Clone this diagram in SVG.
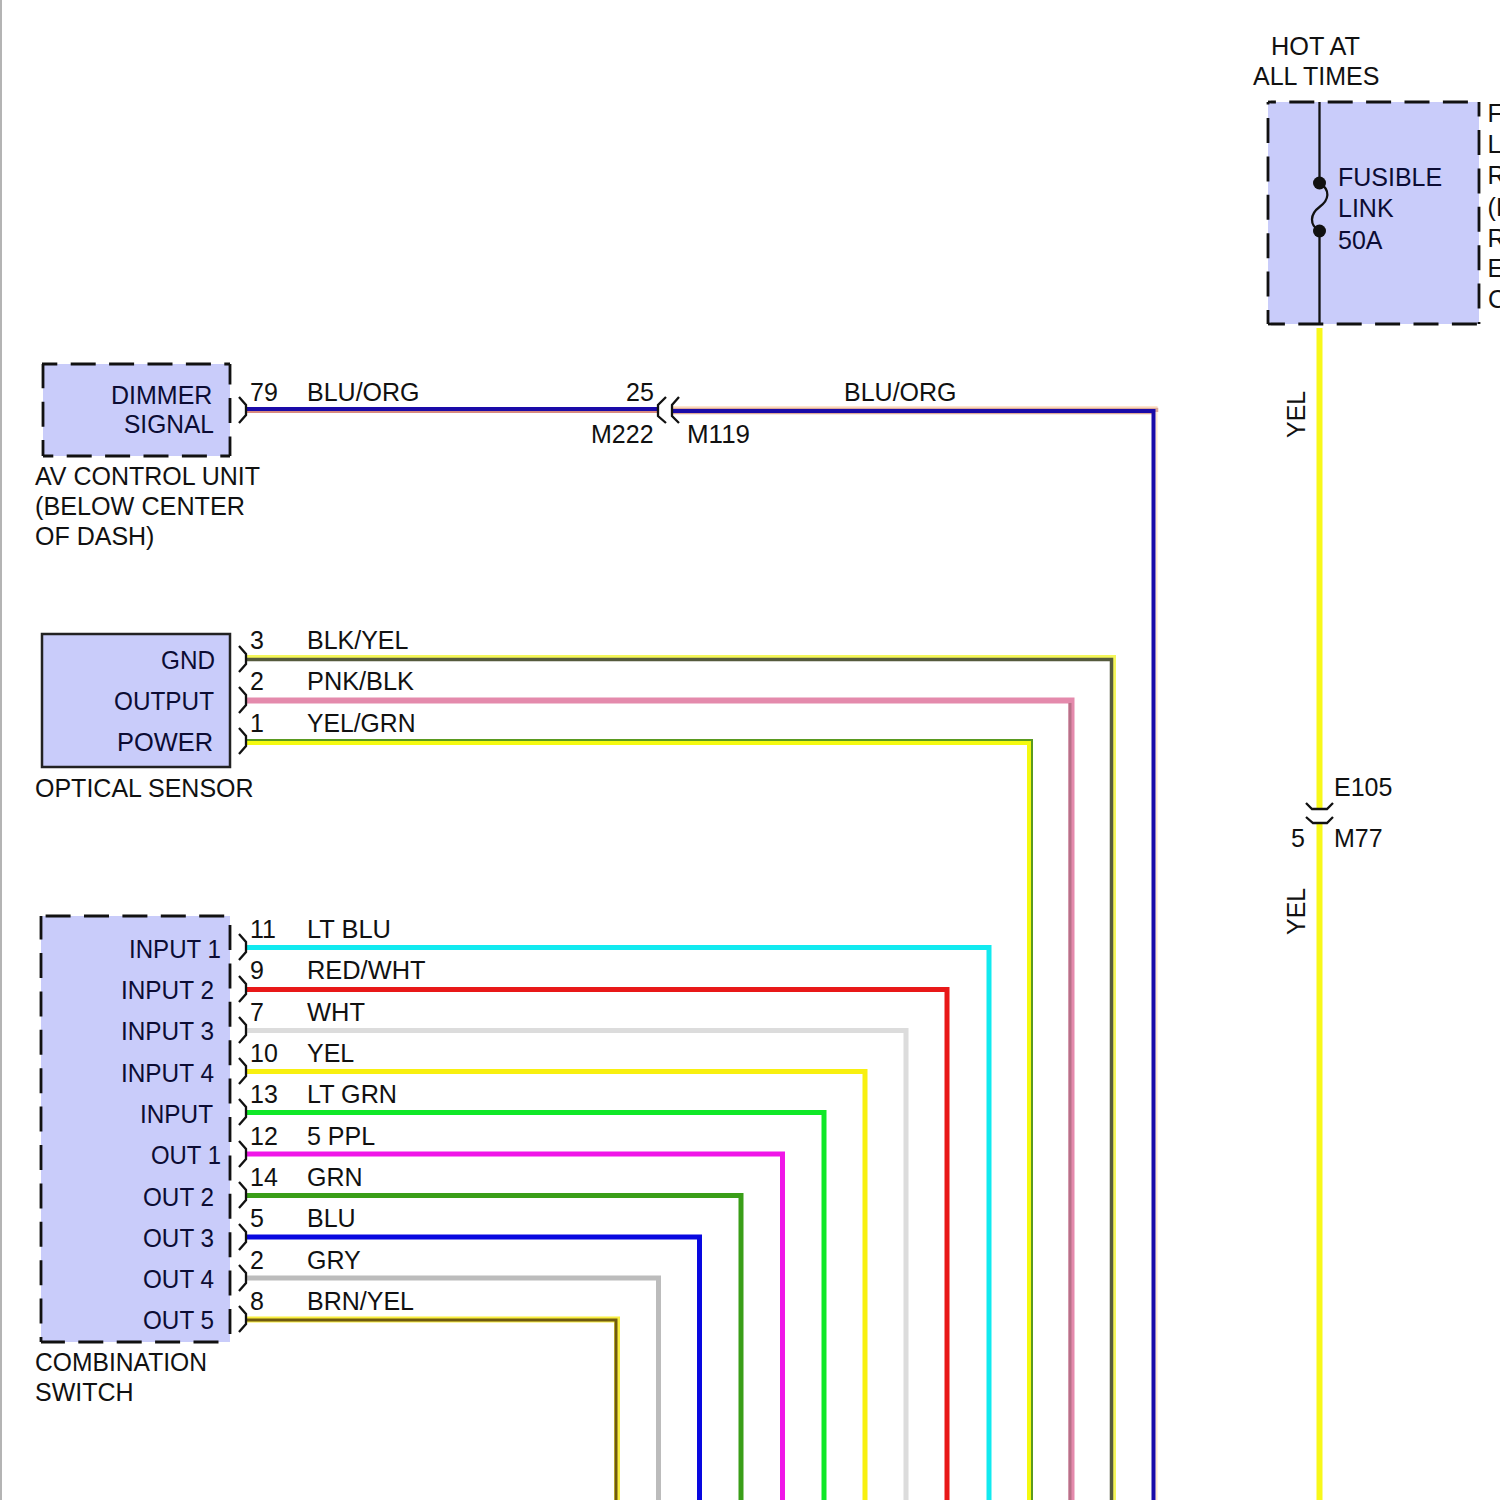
<svg xmlns="http://www.w3.org/2000/svg" width="1500" height="1500" viewBox="0 0 1500 1500">
<style>
text{font-family:"Liberation Sans",Arial,sans-serif;font-size:25px;fill:#111}
.in{fill:#0c0c34}
.box{fill:#c9ccfa;stroke:none}
.dash{fill:none;stroke:#111;stroke-width:2.800;stroke-dasharray:25 13.400}
.solid{fill:#c9ccfa;stroke:#222;stroke-width:2.500}
.w{fill:none;stroke-width:5;stroke-linejoin:miter}
.pin{fill:none;stroke:#111;stroke-width:2.300}
</style>
<defs>
<path id="pinR" class="pin" d="M239 -13L246 -5V5L239 13"/>
</defs>
<rect width="1500" height="1500" fill="#fff"/>
<path d="M1 0V1500" stroke="#b4b4b4" stroke-width="2" fill="none"/>

<g id="connectors">
<path class="w" style="stroke-width:2" stroke="#d88a80" d="M246 412H657"/>
<path class="w" style="stroke-width:4" stroke="#1a0aa8" d="M246 409H657"/>
<path class="w" style="stroke-width:2" stroke="#ffe6cc" d="M673 407H1156.500V1500"/>
<path class="w" style="stroke-width:6.500" stroke="#dca898" d="M673 411H1155V412"/>
<path class="w" style="stroke-width:4" stroke="#1a0aa8" d="M673 411H1153.500V1500"/>
<path class="w" style="stroke-width:6" stroke="#f4f65a" d="M246 658H1113V1500"/>
<path class="w" style="stroke-width:3.500" stroke="#555a3c" d="M246 659.500H1111.500V1500"/>
<path class="w" style="stroke-width:6" stroke="#e48aac" d="M246 700.500H1071.500V1500"/>
<path class="w" style="stroke-width:3" stroke="#b87088" d="M1070 703V1500"/>
<path class="w" style="stroke-width:6" stroke="#f4fa10" d="M246 742H1030V1500"/>
<path class="w" style="stroke-width:2" stroke="#5a9a20" d="M246 740H1032V1500"/>
<path class="w" stroke="#12eaf0" d="M246 947.500H989V1500"/>
<path class="w" stroke="#e81818" d="M246 989.500H947V1500"/>
<path class="w" stroke="#dcdcdc" d="M246 1030.500H906V1500"/>
<path class="w" stroke="#f8f010" d="M246 1071.500H865V1500"/>
<path class="w" stroke="#10e828" d="M246 1112.500H824V1500"/>
<path class="w" stroke="#f016e8" d="M246 1154H782.500V1500"/>
<path class="w" stroke="#3a9e18" d="M246 1195.500H741V1500"/>
<path class="w" stroke="#0808e0" d="M246 1237H699.500V1500"/>
<path class="w" stroke="#bcbcbc" d="M246 1278H658.500V1500"/>
<path class="w" style="stroke-width:6" stroke="#f8ee40" d="M246 1319.500H617V1500"/>
<path class="w" style="stroke-width:3" stroke="#705a10" d="M246 1320H616V1500"/>
<path class="w" style="stroke-width:6" stroke="#f8f81a" d="M1319.500 328V809M1319.500 823V1500"/>
<path class="pin" d="M666 397L658 405V416L666 423M679 397L672 405V416L679 423"/>
<path class="pin" d="M1306 803L1312 809H1327L1333 803M1306 817L1313 823H1327L1333 817"/>
<g>
<use href="#pinR" y="410"/><use href="#pinR" y="659"/><use href="#pinR" y="700"/><use href="#pinR" y="741"/>
<use href="#pinR" y="947"/><use href="#pinR" y="989"/><use href="#pinR" y="1030"/><use href="#pinR" y="1071"/><use href="#pinR" y="1112"/><use href="#pinR" y="1154"/><use href="#pinR" y="1195"/><use href="#pinR" y="1237"/><use href="#pinR" y="1278"/><use href="#pinR" y="1319"/>
</g>
<text x="250" y="401">79</text><text x="307" y="401">BLU/ORG</text><text x="626" y="401">25</text><text x="844" y="401">BLU/ORG</text>
<text x="591" y="443">M222</text><text x="687" y="443" textLength="63" lengthAdjust="spacingAndGlyphs">M119</text>
<text x="250" y="649">3</text><text x="307" y="649">BLK/YEL</text>
<text x="250" y="690">2</text><text x="307" y="690" textLength="107" lengthAdjust="spacingAndGlyphs">PNK/BLK</text>
<text x="250" y="732">1</text><text x="307" y="732" textLength="108.500" lengthAdjust="spacingAndGlyphs">YEL/GRN</text>
<text x="250" y="938" textLength="26" lengthAdjust="spacing">11</text><text x="307" y="938" textLength="84" lengthAdjust="spacingAndGlyphs">LT BLU</text>
<text x="250" y="979">9</text><text x="307" y="979" textLength="118.500" lengthAdjust="spacingAndGlyphs">RED/WHT</text>
<text x="250" y="1021">7</text><text x="307" y="1021" textLength="58" lengthAdjust="spacingAndGlyphs">WHT</text>
<text x="250" y="1062">10</text><text x="307" y="1062">YEL</text>
<text x="250" y="1103">13</text><text x="307" y="1103" textLength="90" lengthAdjust="spacingAndGlyphs">LT GRN</text>
<text x="250" y="1145">12</text><text x="307" y="1145">5 PPL</text>
<text x="250" y="1186">14</text><text x="307" y="1186">GRN</text>
<text x="250" y="1227">5</text><text x="307" y="1227">BLU</text>
<text x="250" y="1269">2</text><text x="307" y="1269">GRY</text>
<text x="250" y="1310">8</text><text x="307" y="1310">BRN/YEL</text>
<text transform="translate(1305 438) rotate(-90)">YEL</text>
<text transform="translate(1305 935) rotate(-90)">YEL</text>
<text x="1334" y="796">E105</text><text x="1334" y="847">M77</text><text x="1291" y="847">5</text>
</g>

<g id="dimmer-signal">
<rect class="box" x="43" y="364" width="187" height="92"/>
<path class="dash" stroke-dashoffset="9.700" d="M42 364H230"/>
<path class="dash" stroke-dashoffset="14.700" d="M43 456H230"/>
<path class="dash" stroke-dashoffset="0.700" d="M43 364V456"/>
<path class="dash" stroke-dashoffset="4.400" d="M230 364V456"/>
<text class="in" x="111" y="404">DIMMER</text><text class="in" x="124" y="433" textLength="90" lengthAdjust="spacingAndGlyphs">SIGNAL</text>
<text x="35" y="485">AV CONTROL UNIT</text><text x="35" y="515" textLength="210" lengthAdjust="spacingAndGlyphs">(BELOW CENTER</text><text x="35" y="545">OF DASH)</text>
</g>

<g id="optical-sensor">
<rect class="solid" x="42" y="634" width="188" height="133"/>
<text class="in" x="161" y="669" textLength="54" lengthAdjust="spacingAndGlyphs">GND</text><text class="in" x="114" y="710" textLength="100" lengthAdjust="spacingAndGlyphs">OUTPUT</text><text class="in" x="117" y="751" textLength="96" lengthAdjust="spacingAndGlyphs">POWER</text>
<text x="35" y="797">OPTICAL SENSOR</text>
</g>

<g id="combination-switch">
<rect class="box" x="41" y="916" width="189" height="426"/>
<path class="dash" stroke-dashoffset="33.800" d="M41 916H230"/>
<path class="dash" stroke-dashoffset="1.100" d="M41 1342H230"/>
<path class="dash" stroke-dashoffset="1.400" d="M41 916V1342"/>
<path class="dash" stroke-dashoffset="29.400" d="M230 916V1342"/>
<text class="in" x="129" y="958" textLength="92" lengthAdjust="spacingAndGlyphs">INPUT 1</text><text class="in" x="121" y="999" textLength="93" lengthAdjust="spacingAndGlyphs">INPUT 2</text><text class="in" x="121" y="1040" textLength="93" lengthAdjust="spacingAndGlyphs">INPUT 3</text><text class="in" x="121" y="1082" textLength="93" lengthAdjust="spacingAndGlyphs">INPUT 4</text><text class="in" x="140" y="1123" textLength="73" lengthAdjust="spacingAndGlyphs">INPUT</text>
<text class="in" x="151" y="1164" textLength="70" lengthAdjust="spacingAndGlyphs">OUT 1</text><text class="in" x="143" y="1206" textLength="71" lengthAdjust="spacingAndGlyphs">OUT 2</text><text class="in" x="143" y="1247" textLength="71" lengthAdjust="spacingAndGlyphs">OUT 3</text><text class="in" x="143" y="1288" textLength="71" lengthAdjust="spacingAndGlyphs">OUT 4</text><text class="in" x="143" y="1329" textLength="71" lengthAdjust="spacingAndGlyphs">OUT 5</text>
<text x="35" y="1371" textLength="172" lengthAdjust="spacingAndGlyphs">COMBINATION</text><text x="35" y="1401">SWITCH</text>
</g>

<g id="fusible-link">
<rect class="box" x="1268" y="102" width="211" height="222"/>
<path class="dash" stroke-dashoffset="17.100" d="M1268 102H1479"/>
<path class="dash" stroke-dashoffset="8.100" d="M1268 324H1479"/>
<path class="dash" stroke-dashoffset="22.400" d="M1268 102V324"/>
<path class="dash" stroke-dashoffset="10.400" d="M1479 102V324"/>
<path d="M1319.500 102V183M1319.500 231V325" fill="none" stroke="#111" stroke-width="2.300"/>
<path d="M1319.500 183C1331 190 1329 200 1319.500 207C1310 214 1309 225 1319.500 231" fill="none" stroke="#111" stroke-width="2.300"/>
<circle cx="1319.500" cy="183" r="6.500" fill="#111"/><circle cx="1319.500" cy="231" r="6.500" fill="#111"/>
<text class="in" x="1338" y="186">FUSIBLE</text><text class="in" x="1338" y="217">LINK</text><text class="in" x="1338" y="249">50A</text>
<text x="1271" y="55" textLength="89" lengthAdjust="spacingAndGlyphs">HOT AT</text><text x="1253" y="85">ALL TIMES</text>
<text x="1487.500" y="122">F</text><text x="1487.500" y="153">L</text><text x="1487.500" y="184">R</text><text x="1487.500" y="216">(I</text><text x="1487.500" y="247">R</text><text x="1487.500" y="277">E</text><text x="1488" y="308">C</text>
</g>
</svg>
